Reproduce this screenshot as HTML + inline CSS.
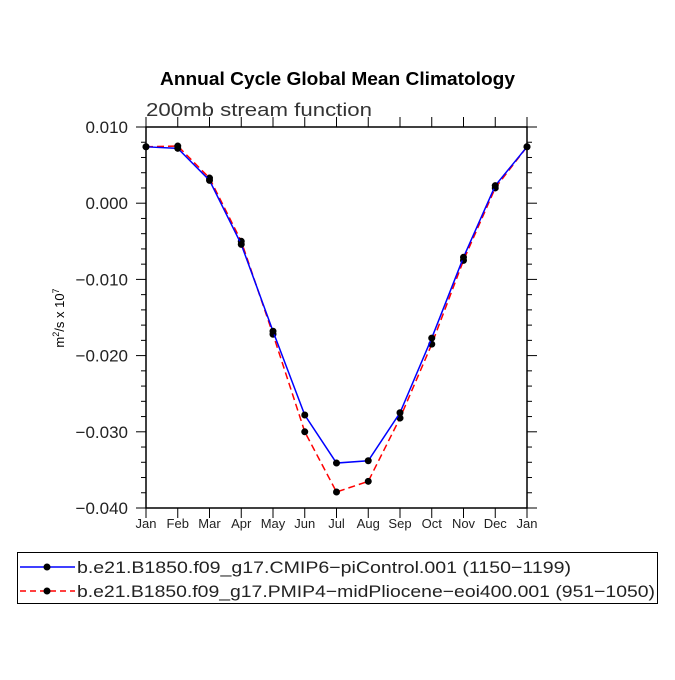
<!DOCTYPE html>
<html><head><meta charset="utf-8"><style>
body{margin:0;background:#fff}
svg text{font-family:"Liberation Sans",sans-serif}
</style></head><body>
<svg width="675" height="675" xmlns="http://www.w3.org/2000/svg">
<rect width="675" height="675" fill="#fff"/>
<text x="160" y="85" textLength="355" lengthAdjust="spacingAndGlyphs" font-size="18" font-weight="bold">Annual Cycle Global Mean Climatology</text>
<text x="146" y="116" textLength="226" lengthAdjust="spacingAndGlyphs" font-size="18" fill="#333">200mb stream function</text>
<g id="axes"></g>
<g id="series"></g>
<text transform="translate(64,318) rotate(-90)" text-anchor="middle" font-size="13">m<tspan baseline-shift="super" font-size="9">2</tspan>/s x 10<tspan baseline-shift="super" font-size="9">7</tspan></text>
<g>
<rect x="17.5" y="552.5" width="640" height="51" fill="none" stroke="#000"/>
<line x1="20" y1="567" x2="75" y2="567" stroke="#00f" stroke-width="1.5"/>
<circle cx="47" cy="567" r="3.5"/>
<text x="77" y="573" textLength="494" lengthAdjust="spacingAndGlyphs" font-size="17" fill="#222">b.e21.B1850.f09_g17.CMIP6−piControl.001 (1150−1199)</text>
<line x1="20" y1="591" x2="75" y2="591" stroke="#f00" stroke-width="1.5" stroke-dasharray="6,4"/>
<circle cx="47" cy="591" r="3.5"/>
<text x="77" y="597" textLength="578" lengthAdjust="spacingAndGlyphs" font-size="17" fill="#222">b.e21.B1850.f09_g17.PMIP4−midPliocene−eoi400.001 (951−1050)</text>
</g>
</svg>
<script>
const months=["Jan","Feb","Mar","Apr","May","Jun","Jul","Aug","Sep","Oct","Nov","Dec","Jan"];
const piControl=[0.0074,0.0072,0.0030,-0.0054,-0.0168,-0.0278,-0.0341,-0.0338,-0.0275,-0.0177,-0.0071,0.0023,0.0074];
const midPliocene=[0.0074,0.0075,0.0033,-0.0050,-0.0172,-0.0300,-0.0379,-0.0365,-0.0282,-0.0185,-0.0075,0.0020,0.0074];
const yTicks=[0.010,0.000,-0.010,-0.020,-0.030,-0.040];
const yTickLabels=["0.010","0.000","−0.010","−0.020","−0.030","−0.040"];
const L=146,R=527,T=127,B=508,ymax=0.010,ymin=-0.040;
const xs=i=>L+i*(R-L)/(months.length-1);
const ys=v=>T+(ymax-v)/(ymax-ymin)*(B-T);
const NS="http://www.w3.org/2000/svg";
function mk(t,a,p){const e=document.createElementNS(NS,t);for(const k in a)e.setAttribute(k,a[k]);p.appendChild(e);return e;}
const ax=document.getElementById('axes');
const frame=mk('rect',{x:L,y:T,width:R-L,height:B-T,fill:'none',stroke:'#000','stroke-width':1.5},ax);


for(let v=ymin;v<=ymax+1e-9;v+=0.002){
  const y=ys(v);const major=Math.abs(Math.round(v*1000)%10)===0;const len=major?10:5;
  mk('line',{x1:L-len,y1:y,x2:L,y2:y,stroke:'#000'},ax);
  mk('line',{x1:R,y1:y,x2:R+len,y2:y,stroke:'#000'},ax);
}
yTicks.forEach((v,i)=>{
  const t=mk('text',{x:L-18,y:ys(v)+6,'text-anchor':'end','font-size':17,fill:'#222'},ax);
  t.textContent=yTickLabels[i];
  
  
});
months.forEach((m,i)=>{
  const x=xs(i);
  mk('line',{x1:x,y1:B,x2:x,y2:B+10,stroke:'#000'},ax);
  mk('line',{x1:x,y1:T-10,x2:x,y2:T,stroke:'#000'},ax);
  const t=mk('text',{x:x,y:B+20,'text-anchor':'middle','font-size':13,fill:'#222'},ax);
  t.textContent=m;
  
  
});
const sg=document.getElementById('series');
function draw(vals,color,dash,name){
  const g=mk('g',{},sg);
  
  
  const pl=mk('polyline',{points:vals.map((v,i)=>xs(i)+','+ys(v)).join(' '),fill:'none',stroke:color,'stroke-width':1.5},g);
  if(dash)pl.setAttribute('stroke-dasharray',dash);
  vals.forEach((v,i)=>{const c=mk('circle',{cx:xs(i),cy:ys(v),r:3.5,fill:'#000'},g);
    
    });
}
draw(midPliocene,'#f00','7,4','series-midpliocene');
draw(piControl,'#00f',null,'series-picontrol');
</script>
</body></html>
